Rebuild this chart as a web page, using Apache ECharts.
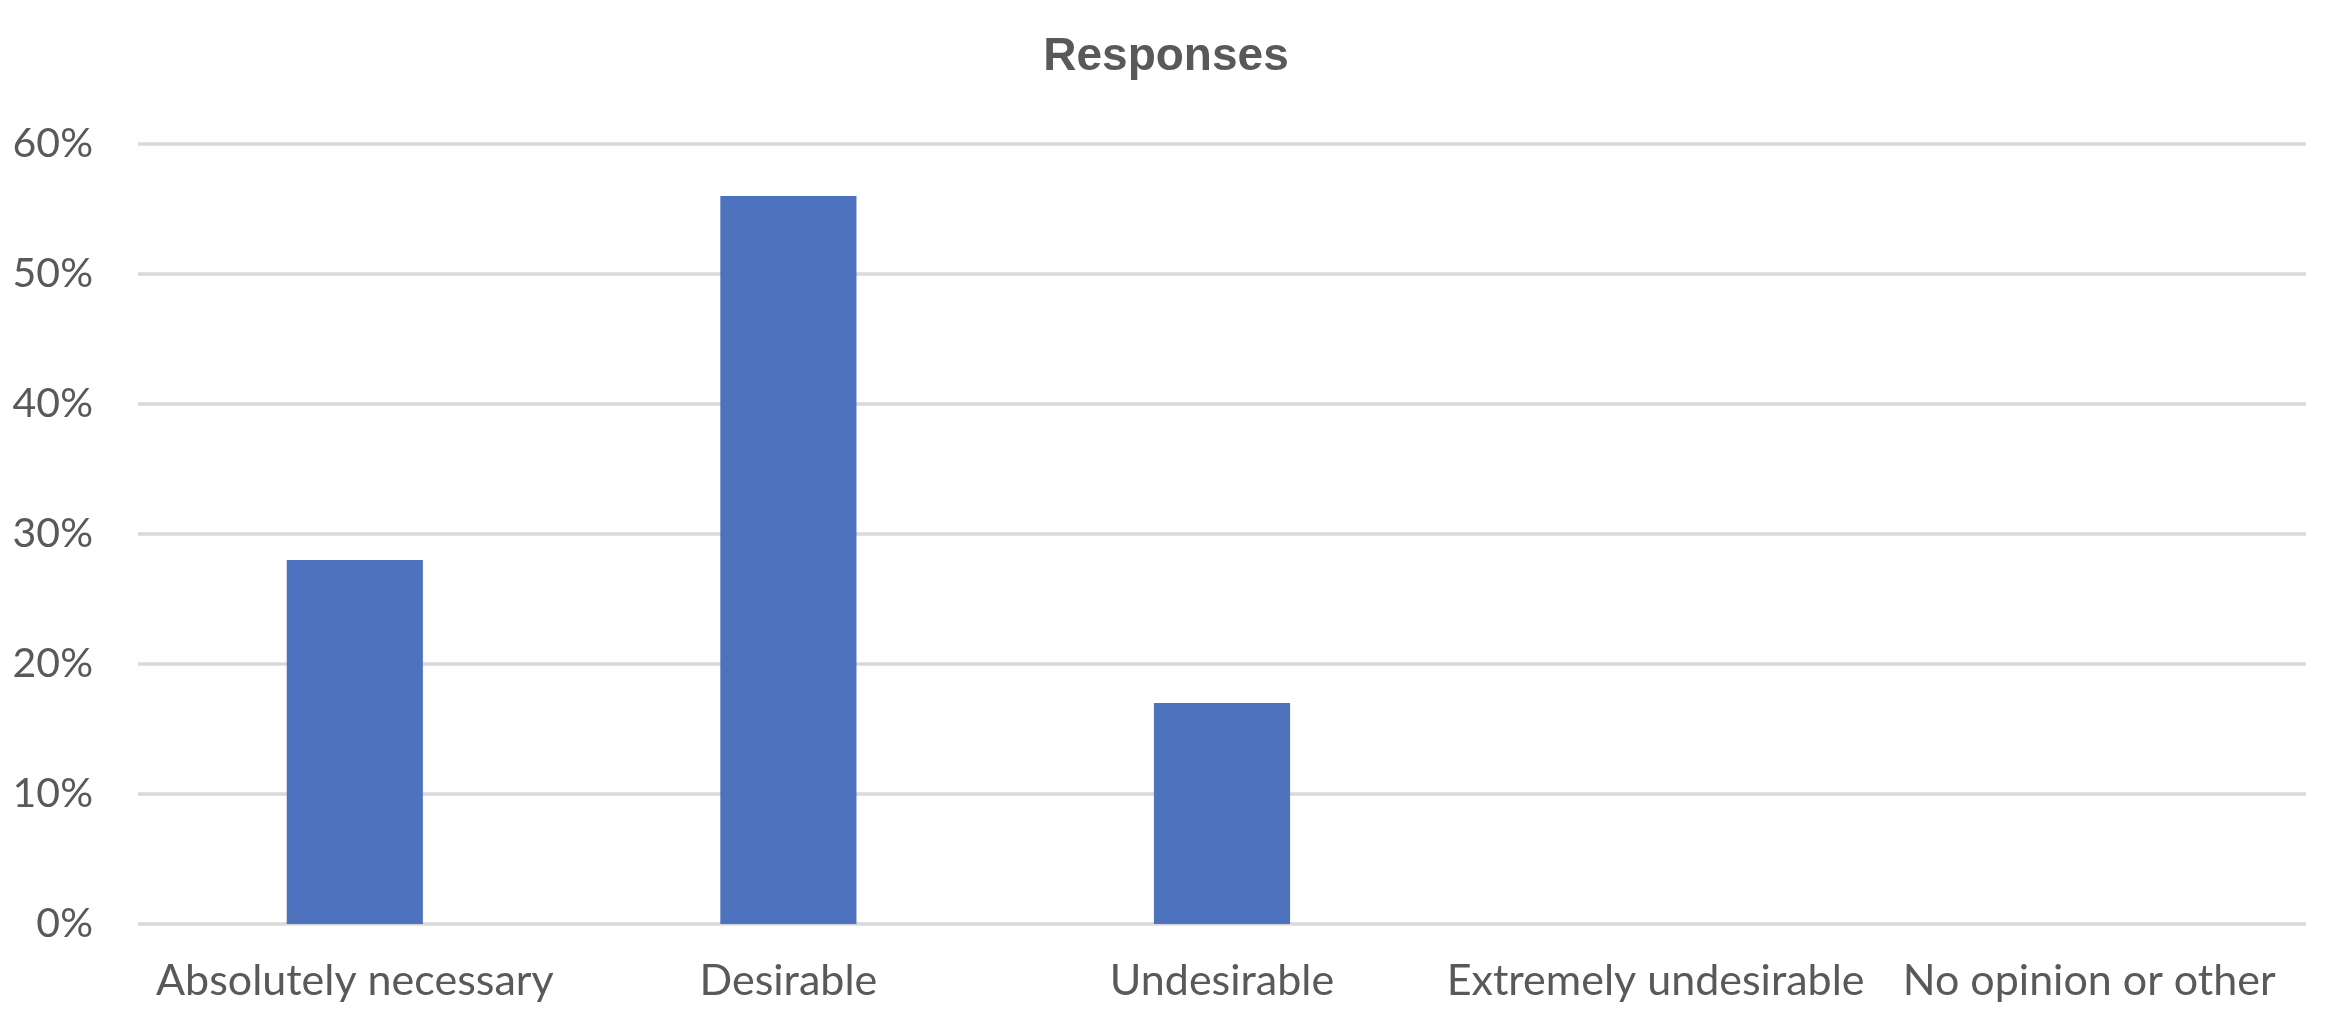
<!DOCTYPE html>
<html>
	<head>
		<meta charset="UTF-8" />
		<script src="https://cdn.jsdelivr.net/npm/echarts@6/dist/echarts.min.js"></script>
		<title>Responses</title>
		<style>
			body {
				margin: 0;
				background-color: #ffffff;
			}
			#chart {
				width: 2332px;
				height: 1032px;
			}
		</style>
	</head>
	<body>
		<div id="chart"></div>
		<script>
			// categories and values (percent)
			var categories = ['Absolutely necessary', 'Desirable', 'Undesirable', 'Extremely undesirable', 'No opinion or other']
			var responses = [28, 56, 17, 0, 0]
			var yTicks = [0, 10, 20, 30, 40, 50, 60]

			var textColor = '#595959'
			var chart = echarts.init(document.getElementById('chart'))

			var option = {
				animation: false,
				title: {
					text: 'Responses',
					left: 'center',
					top: 29,
					textStyle: {
						fontFamily: 'Liberation Sans',
						fontWeight: 'bold',
						fontSize: 46,
						color: textColor,
					},
				},
				grid: {
					left: 138,
					right: 26,
					top: 144,
					bottom: 108,
				},
				xAxis: {
					type: 'category',
					data: categories,
					axisLine: { show: false },
					axisTick: { show: false },
					axisLabel: {
						interval: 0,
						margin: 36,
						fontFamily: 'Lato',
						fontSize: 43,
						color: textColor,
					},
				},
				yAxis: {
					type: 'value',
					min: yTicks[0],
					max: yTicks[yTicks.length - 1],
					interval: 10,
					axisLine: { show: false },
					axisTick: { show: false },
					axisLabel: {
						margin: 45,
						fontFamily: 'Lato',
						fontSize: 41,
						color: textColor,
						formatter: '{value}%',
					},
					splitLine: {
						lineStyle: { color: '#d9d9d9', width: 3.5 },
					},
				},
				series: [
					{
						name: 'Responses',
						type: 'bar',
						data: responses,
						barWidth: '31.4%',
						itemStyle: { color: '#4e73be' },
					},
				],
			}

			chart.setOption(option)
		</script>
	</body>
</html>
